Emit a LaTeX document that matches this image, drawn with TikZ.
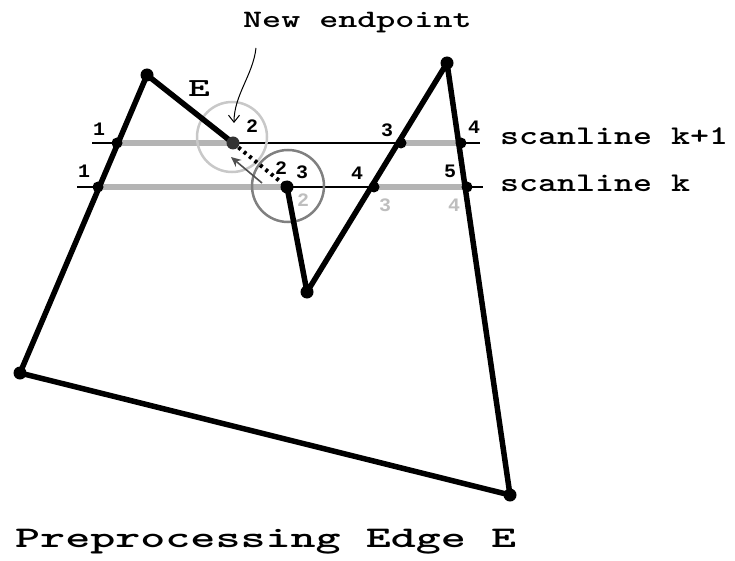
\documentclass[tikz,border=0pt]{standalone}
\usepackage{graphicx}
\usepackage{fontspec}
\newfontfamily\digfont{Liberation Mono}
\usetikzlibrary{arrows.meta}
\definecolor{spangray}{RGB}{180,180,180}
\definecolor{ringlight}{RGB}{200,200,200}
\definecolor{ringdark}{RGB}{128,128,128}
\definecolor{labelgray}{RGB}{190,190,190}
\definecolor{newdot}{RGB}{50,50,50}
\definecolor{arrowgray}{RGB}{80,80,80}
\newcommand{\mtext}[3]{\scalebox{#2}[1]{\fontsize{#1pt}{#1pt}\selectfont\ttfamily\bfseries #3}}
\newcommand{\dig}[1]{\scalebox{1.05}[1]{\fontsize{19pt}{19pt}\selectfont\digfont\bfseries #1}}
\begin{document}
\begin{tikzpicture}[x=1pt,y=-1pt,
  edge/.style={line width=5.5pt,black,line cap=round,line join=round},
  dotedge/.style={line width=4pt,black,dash pattern=on 3pt off 4pt},
  spanline/.style={line width=6pt,spangray},
  scanl/.style={line width=1.3pt,black},
  vdot/.style={circle,fill=black,inner sep=0pt,minimum size=13pt},
  idot/.style={circle,fill=black,inner sep=0pt,minimum size=11pt},
  ring/.style={circle,draw,line width=2.5pt,inner sep=0pt,fill=none},
  num/.style={inner sep=0pt},
  lbl/.style={inner sep=0pt,anchor=base west}]
\path[use as bounding box] (0,0) rectangle (735,561);
% vertices
\coordinate (BL) at (20,373);
\coordinate (TL) at (147,75);
\coordinate (NE) at (233,143);
\coordinate (OE) at (287,187);
\coordinate (VB) at (307,292);
\coordinate (TR) at (447,63);
\coordinate (BR) at (510,495);
% intersections
\coordinate (a1) at (117,143);
\coordinate (a3) at (401,143);
\coordinate (a4) at (461,143);
\coordinate (b1) at (98,187);
\coordinate (b4) at (374,187);
\coordinate (b5) at (467,187);
% scanline ends
\coordinate (s1l) at (92,143);
\coordinate (s1r) at (480,143);
\coordinate (s0l) at (77,187);
\coordinate (s0r) at (483,187);
% scanlines
\draw[scanl] (s1l) -- (s1r);
\draw[scanl] (s0l) -- (s0r);
% spans
\draw[spanline] (a1) -- (NE);
\draw[spanline] (a3) -- (a4);
\draw[spanline] (b1) -- (OE);
\draw[spanline] (b4) -- (b5);
% rings
\node[ring,draw=ringlight,minimum size=70pt] (c1) at (232,137) {};
\node[ring,draw=ringdark,minimum size=72pt] (c2) at (288,186) {};
% polygon edges
\draw[edge] (BL) -- (TL) -- (NE);
\draw[dotedge] (NE) -- (OE);
\draw[edge] (OE) -- (VB) -- (TR) -- (BR) -- (BL);
% arrow new endpoint
\coordinate (ga) at (262,183);
\coordinate (gb) at (231,157);
\draw[arrowgray,line width=1.6pt,-{Stealth[length=10pt,width=9pt]}] (ga) -- (gb);
% dots
\node[vdot] (dBL) at (BL) {};
\node[vdot] (dTL) at (TL) {};
\node[vdot] (dVB) at (VB) {};
\node[vdot] (dTR) at (TR) {};
\node[vdot] (dBR) at (BR) {};
\node[vdot] (dOE) at (OE) {};
\node[vdot,fill=newdot] (dNE) at (NE) {};
\node[idot] (da1) at (a1) {};
\node[idot] (da3) at (a3) {};
\node[idot] (da4) at (a4) {};
\node[idot] (db1) at (b1) {};
\node[idot] (db4) at (b4) {};
\node[idot] (db5) at (b5) {};
% labels
\node[num] (l11) at (99,129) {\dig{1}};
\node[num] (l12) at (252,126) {\dig{2}};
\node[num] (l13) at (387,130) {\dig{3}};
\node[num] (l14) at (474,127) {\dig{4}};
\node[num] (l01) at (84,171) {\dig{1}};
\node[num] (l02) at (281,168) {\dig{2}};
\node[num] (l03) at (302,172) {\dig{3}};
\node[num] (l04) at (357,173) {\dig{4}};
\node[num] (l05) at (450,171) {\dig{5}};
\node[num,text=labelgray] (g2) at (303,200) {\dig{2}};
\node[num,text=labelgray] (g3) at (385,205) {\dig{3}};
\node[num,text=labelgray] (g4) at (454,205) {\dig{4}};
\node[inner sep=0pt] (lE) at (199,89) {\mtext{26}{1.6}{E}};
\node[lbl] (sk1) at (500,145) {\mtext{27}{1.34}{scanline k+1}};
\node[lbl] (sk0) at (500,192) {\mtext{27}{1.34}{scanline k}};
\node[lbl] (ttl) at (243,28) {\mtext{25}{1.45}{New endpoint}};
\node[lbl] (title) at (15,547) {\mtext{30}{1.59}{Preprocessing Edge E}};
% curved pointer
\coordinate (cp0) at (256,48);
\coordinate (cp1) at (234,123);
\draw[line width=1pt,-{Straight Barb[length=7pt,width=11pt]}] (cp0) .. controls (253,75) and (234,95) .. (cp1);
\end{tikzpicture}
\end{document}
